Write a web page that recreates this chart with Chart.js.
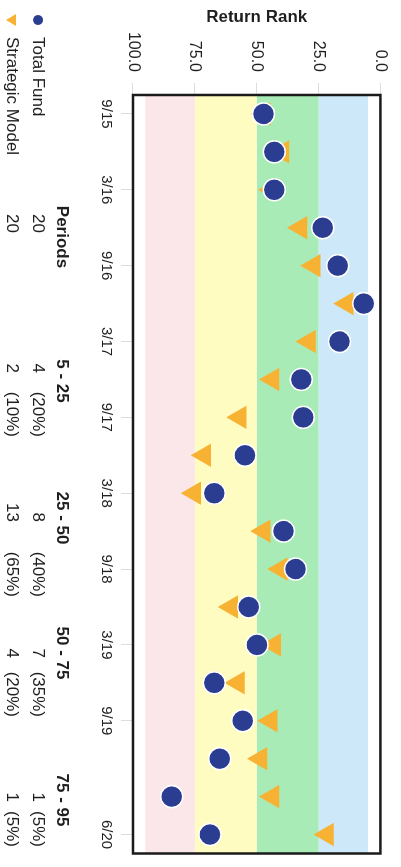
<!DOCTYPE html>
<html>
<head>
<meta charset="utf-8">
<title>Return Rank</title>
<script src="https://cdn.jsdelivr.net/npm/chart.js@4"></script>
<style>
  html, body { margin: 0; padding: 0; background: #fff; overflow: hidden; }
  /* the chart is laid out landscape and turned a quarter clockwise */
  #wrap {
    position: absolute; left: 0; top: 0;
    width: 867px; height: 401px;
    transform-origin: 0 0;
    transform: translateX(401px) rotate(90deg);
  }
</style>
</head>
<body>
<div id="wrap"><canvas id="rankChart" width="867" height="401"></canvas></div>
<script>
// quarter ends
const dates = [
  "9/15", "12/15", "3/16", "6/16", "9/16", "12/16", "3/17", "6/17", "9/17", "12/17",
  "3/18", "6/18", "9/18", "12/18", "3/19", "6/19", "9/19", "12/19", "3/20", "6/20",
];
// dates that get a label on the axis
const tickDates = ["9/15", "3/16", "9/16", "3/17", "9/17", "3/18", "9/18", "3/19", "9/19", "6/20"];

// return rank of each series
const totalFund = [
  47.3, 42.9, 42.9, 23.3, 17.2, 6.7, 16.5, 32.0, 31.2, 54.7,
  67.2, 39.2, 34.3, 53.2, 49.9, 67.2, 55.6, 64.9, 84.3, 68.9,
];
const strategicModel = [
  47.0, 39.6, 44.0, 32.3, 26.9, 13.6, 28.9, 43.6, 56.9, 71.2,
  75.2, 47.2, 40.3, 60.3, 42.9, 57.6, 44.3, 48.5, 43.6, 21.6,
];

// rank bands
const bandEdges = [5, 25, 50, 75, 95];
const bandColors = ["#cde8f9", "#a8ebb6", "#fffcc2", "#fbe6ea"];
const rankTicks = [0, 25, 50, 75, 100];

// summary table
const tableHeaders = ["Periods", "5 - 25", "25 - 50", "50 - 75", "75 - 95"];
const fundCounts = [20, 4, 8, 7, 1];
const fundPct = [20, 40, 35, 5];
const modelCounts = [20, 2, 13, 4, 1];
const modelPct = [10, 65, 20, 5];

const FONT = "'Liberation Sans', Arial, sans-serif";
const TEXT = "#1f1f1f";
const NAVY = "#2b3d90";
const GOLD = "#f8b233";

// plugin:: bands and frame of the plot
const bandsPlugin = {
  id: "bands",
  beforeDatasetsDraw(chart) {
    const { ctx, chartArea: a, scales } = chart;
    ctx.save();
    for (let i = 0; i < bandColors.length; i++) {
      const y0 = scales.y.getPixelForValue(bandEdges[i]);
      const y1 = scales.y.getPixelForValue(bandEdges[i + 1]);
      ctx.fillStyle = bandColors[i];
      ctx.fillRect(a.left, y0, a.width, y1 - y0);
    }
    ctx.strokeStyle = "#1a1a1a";
    ctx.lineWidth = 2.5;
    ctx.strokeRect(a.left, a.top, a.width, a.height);
    ctx.restore();
  },
};

// plugin:: legend and periods table under the plot
const tablePlugin = {
  id: "table",
  afterDraw(chart) {
    const { ctx } = chart;
    const rowHead = 339, rowFund = 363, rowModel = 389;
    const headX = [237, 381, 518, 653, 800];
    const countX = [233, 373, 522, 658, 802];
    const pctX = [0, 437, 597, 717, 847];

    ctx.save();
    ctx.textBaseline = "middle";

    // legend marks
    ctx.fillStyle = NAVY;
    ctx.beginPath();
    ctx.arc(20, rowFund, 5, 0, Math.PI * 2);
    ctx.fill();
    ctx.fillStyle = GOLD;
    ctx.beginPath();
    ctx.moveTo(14, rowModel - 4);
    ctx.lineTo(26, rowModel - 4);
    ctx.lineTo(20, rowModel + 6);
    ctx.closePath();
    ctx.fill();

    ctx.fillStyle = TEXT;
    ctx.font = "17px " + FONT;
    ctx.textAlign = "left";
    ctx.fillText("Total Fund", 37, rowFund);
    ctx.fillText("Strategic Model", 37, rowModel);

    // headers
    ctx.font = "bold 17px " + FONT;
    ctx.textAlign = "center";
    tableHeaders.forEach((h, i) => ctx.fillText(h, headX[i], rowHead));

    // values
    ctx.font = "17px " + FONT;
    ctx.textAlign = "right";
    for (let i = 0; i < tableHeaders.length; i++) {
      ctx.fillText(String(fundCounts[i]), countX[i], rowFund);
      ctx.fillText(String(modelCounts[i]), countX[i], rowModel);
      if (i > 0) {
        ctx.fillText("(" + fundPct[i - 1] + "%)", pctX[i], rowFund);
        ctx.fillText("(" + modelPct[i - 1] + "%)", pctX[i], rowModel);
      }
    }
    ctx.restore();
  },
};

new Chart(document.getElementById("rankChart"), {
  type: "line",
  data: {
    labels: dates,
    datasets: [
      {
        label: "Total Fund",
        data: totalFund,
        showLine: false,
        pointStyle: "circle",
        pointRadius: 11,
        pointBackgroundColor: NAVY,
        pointBorderColor: "#ffffff",
        pointBorderWidth: 1.5,
      },
      {
        label: "Strategic Model",
        data: strategicModel,
        showLine: false,
        pointStyle: "triangle",
        pointRotation: 180,
        pointRadius: 13.5,
        pointBackgroundColor: GOLD,
        pointBorderColor: GOLD,
        pointBorderWidth: 0,
      },
    ],
  },
  options: {
    responsive: false,
    animation: false,
    devicePixelRatio: 1,
    layout: { padding: { left: 0, right: 4, top: 17, bottom: 0 } },
    plugins: {
      legend: { display: false },
      tooltip: { enabled: false },
    },
    scales: {
      x: {
        type: "category",
        offset: true,
        grid: { drawOnChartArea: false, color: "#dddddd", tickLength: 12, offset: false },
        border: { display: false },
        ticks: {
          autoSkip: false,
          maxRotation: 0,
          padding: 6,
          color: TEXT,
          font: { family: FONT, size: 15 },
          callback: (v, i) => (tickDates.includes(dates[i]) ? dates[i] : null),
        },
        afterFit: (s) => { s.height = 133; },
      },
      y: {
        reverse: true,
        min: 0,
        max: 100,
        afterBuildTicks: (s) => { s.ticks = rankTicks.map((v) => ({ value: v })); },
        grid: { drawOnChartArea: false, color: "#dddddd", tickLength: 12 },
        border: { display: false },
        ticks: {
          padding: 11,
          color: TEXT,
          font: { family: FONT, size: 16 },
          callback: (v) => Number(v).toFixed(1),
        },
        title: {
          display: true,
          text: "Return Rank",
          color: TEXT,
          font: { family: FONT, size: 17, weight: "bold" },
          padding: { top: 7, bottom: 0 },
        },
        afterFit: (s) => { s.width = 95; },
      },
    },
  },
  plugins: [bandsPlugin, tablePlugin],
});
</script>
</body>
</html>
